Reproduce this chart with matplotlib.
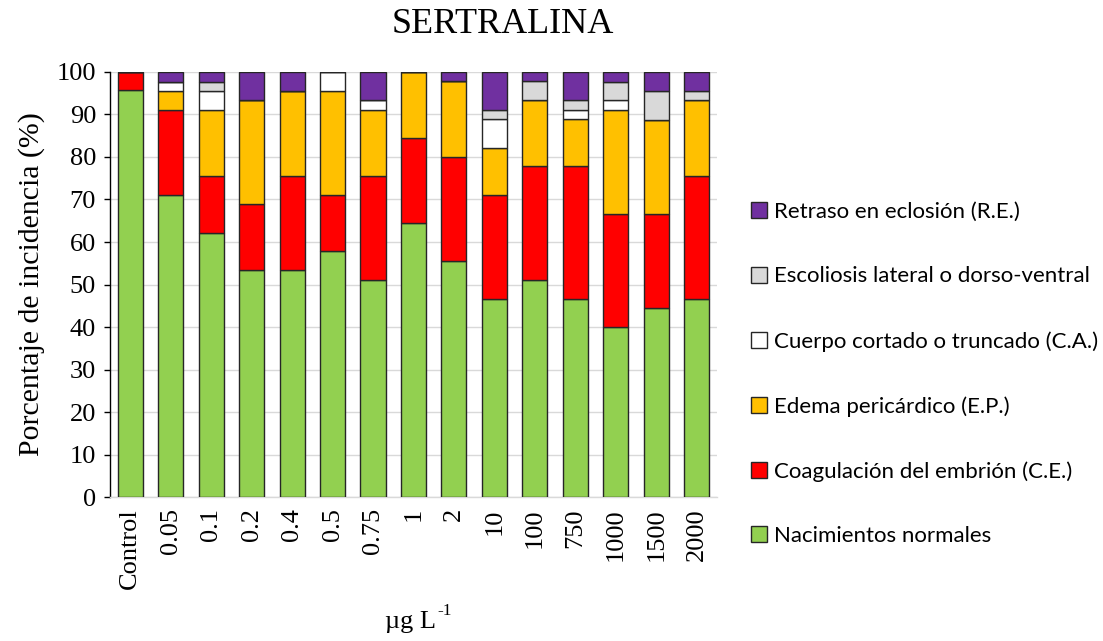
import matplotlib
matplotlib.use("Agg")
import matplotlib.pyplot as plt
from matplotlib.patches import Patch
import numpy as np

categories = ["Control", "0.05", "0.1", "0.2", "0.4", "0.5", "0.75", "1", "2",
              "10", "100", "750", "1000", "1500", "2000"]
normales   = [95.65, 71.1, 62.2, 53.3, 53.3, 57.8, 51.1, 64.4, 55.6, 46.7, 51.1, 46.7, 40.0, 44.4, 46.7]
coagulacion = [4.35, 20.0, 13.3, 15.6, 22.2, 13.3, 24.4, 20.0, 24.4, 24.4, 26.7, 31.1, 26.7, 22.2, 28.9]
edema      = [0.0, 4.4, 15.6, 24.4, 20.0, 24.4, 15.6, 15.6, 17.8, 11.1, 15.6, 11.1, 24.4, 22.2, 17.8]
cortado    = [0.0, 2.2, 4.4, 0.0, 0.0, 4.4, 2.2, 0.0, 0.0, 6.7, 0.0, 2.2, 2.2, 0.0, 0.0]
escoliosis = [0.0, 0.0, 2.2, 0.0, 0.0, 0.0, 0.0, 0.0, 0.0, 2.2, 4.4, 2.2, 4.4, 6.7, 2.2]
retraso    = [0.0, 2.2, 2.2, 6.7, 4.4, 0.0, 6.7, 0.0, 2.2, 8.9, 2.2, 6.7, 2.2, 4.4, 4.4]

series_labels = ["Nacimientos normales", "Coagulación del embrión (C.E.)",
                 "Edema pericárdico (E.P.)", "Cuerpo cortado o truncado (C.A.)",
                 "Escoliosis lateral o dorso-ventral", "Retraso en eclosión (R.E.)"]
colors = ["#92D050", "#FF0000", "#FFC000", "#FFFFFF", "#D9D9D9", "#7030A0"]
series = [normales, coagulacion, edema, cortado, escoliosis, retraso]

fig = plt.figure(figsize=(11.03, 6.41), dpi=100)
ax = fig.add_axes([0.0997, 0.2246, 0.5503, 0.6631])

x = np.arange(len(categories))
bottom = np.zeros(len(categories))
for vals, col, lab in zip(series, colors, series_labels):
    v = np.array(vals)
    ax.bar(x, v, width=0.62, bottom=bottom, color=col, edgecolor="#262626",
           linewidth=1.0, label=lab, zorder=3)
    bottom += v

ax.set_xlim(-0.5, len(categories) - 0.5)
ax.set_ylim(0, 100)
ax.set_yticks(np.arange(0, 101, 10))
ax.yaxis.grid(True, color="#D9D9D9", linewidth=1.0, zorder=0)
ax.set_axisbelow(True)
for s in ["top", "right"]:
    ax.spines[s].set_visible(False)
ax.spines["left"].set_color("black")
ax.spines["left"].set_linewidth(1.0)
ax.spines["bottom"].set_color("#D9D9D9")
ax.spines["bottom"].set_linewidth(1.0)
ax.tick_params(axis="y", direction="out", length=4, width=1, colors="black",
               labelsize=19, pad=6)
ax.tick_params(axis="x", length=0, labelsize=19, pad=8)
for lbl in ax.get_yticklabels():
    lbl.set_fontfamily("Liberation Serif")
ax.set_xticks(x)
ax.set_xticklabels(categories, rotation=90, fontfamily="Liberation Serif", fontsize=19)

ax.set_ylabel("Porcentaje de incidencia (%)", fontfamily="Liberation Serif",
              fontsize=21.5, labelpad=8)
fig.text(0.3955, 0.029, "µg L", fontfamily="Liberation Serif",
         fontsize=19, ha="right", va="center")
fig.text(0.3965, 0.047, "-1", fontfamily="Liberation Serif",
         fontsize=12.5, ha="left", va="center")
fig.text(0.456, 0.962, "SERTRALINA", fontfamily="Liberation Serif", fontsize=26,
         ha="center", va="center")

handles = [Patch(facecolor=c, edgecolor="#262626", linewidth=1.0, label=l)
           for c, l in zip(colors, series_labels)][::-1]
leg = fig.legend(handles=handles, loc="center left", bbox_to_anchor=(0.6725, 0.4165),
                 frameon=False, prop={"family": "Lato", "size": 16},
                 labelspacing=2.0, handlelength=0.75, handleheight=0.75,
                 handletextpad=0.3, borderaxespad=0)

fig.savefig("out.png", dpi=100)
